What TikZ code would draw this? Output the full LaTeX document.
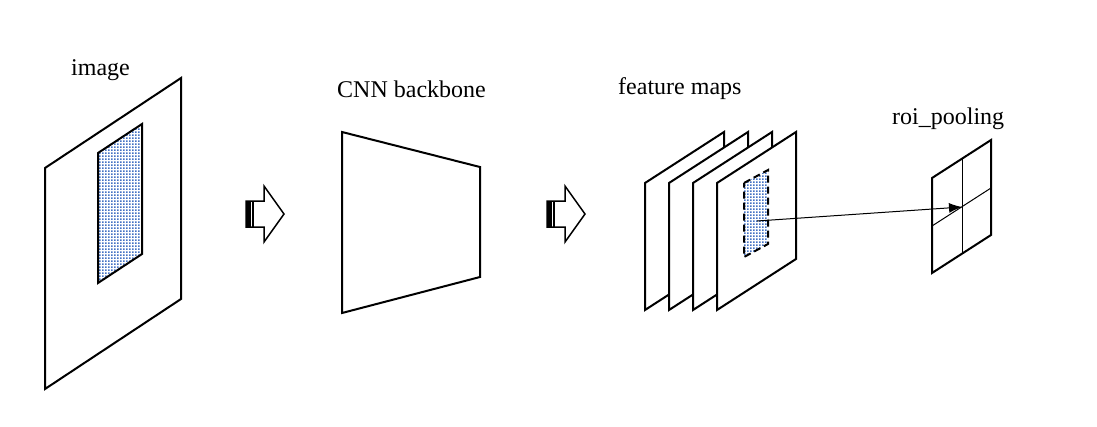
\documentclass[tikz,border=0pt]{standalone}
\usepackage{fontspec}
\setmainfont{Liberation Serif}
\usepackage{tikz}
\usetikzlibrary{arrows.meta, calc, patterns.meta, positioning}
\usepackage{xcolor}
\definecolor{RoiBlue}{RGB}{68, 114, 196}
\pgfdeclarepattern{%
  name=roidots,%
  type=uncolored,%
  bottom left={\pgfpoint{0pt}{0pt}},%
  top right={\pgfpoint{3pt}{3pt}},%
  tile size={\pgfpoint{3pt}{3pt}},%
  code={%
    \pgfpathrectangle{\pgfpoint{0pt}{0pt}}{\pgfpoint{2pt}{2pt}}%
    \pgfusepath{fill}%
  }%
}
\tikzset{%
  panel/.style={%
    draw=black,%
    fill=white,%
    line width=2pt,%
    line join=miter,%
  },
  roi_area/.style={%
    line width=2pt,%
    pattern=roidots,%
    pattern color=RoiBlue,%
  },
  roi_dashed/.style={%
    roi_area,%
    dash pattern=on 7pt off 4pt,%
  },
  grid_line/.style={%
    line width=1pt,%
  },
  step_arrow/.style={%
    draw=black,%
    fill=white,%
    line width=1.5pt,%
  },
  caption/.style={%
    anchor=base west,%
    inner sep=0pt,%
    font={\fontsize{24}{29}\selectfont},%
  },
  arrow/.style={-{Latex[length=13pt, width=10pt]}, line width=1pt},
}

\begin{document}
\begin{tikzpicture}[x=1pt, y=-1pt]
  \useasboundingbox (0,0) rectangle (1097,426);

  % input image with its region
  \draw [panel] (45,168) -- (181,78) -- (181,299) -- (45,389) -- cycle;
  \draw [roi_area] (98,153) -- (142,124) -- (142,254) -- (98,283) -- cycle;
  \node [caption] (ImageLabel) at (71,75) {image};

  % block arrows
  \foreach \ax/\name in {246/StepA, 547/StepB}{%
    \draw [step_arrow] (\ax,201) -- ++(18,0) -- ++(0,-15) -- ++(20,28)
      -- ++(-20,28) -- ++(0,-15) -- ++(-18,0) -- cycle;
    \fill [black] (\ax,201) rectangle ++(5,26);
    \draw [line width=1.2pt] ($(\ax,201)+(7,0)$) -- ++(0,26);
  }

  % backbone
  \draw [panel] (342,132) -- (480,167) -- (480,277) -- (342,313) -- cycle;
  \node [caption] (BackboneLabel) at (337,97) {CNN backbone};

  % stacked feature maps
  \foreach \i in {0,...,3}{%
    \draw [panel] ({645+24*\i},183) -- ++(79,-51) -- ++(0,127) -- ++(-79,51) -- cycle;
  }
  \draw [roi_dashed] (744,183) -- (768,170) -- (768,244) -- (744,257) -- cycle;
  \coordinate (RoiCenter) at (757,221);
  \node [caption] (FeatureLabel) at (618,94) {feature maps};

  % pooled grid
  \draw [panel] (932,178) -- (991,140) -- (991,235) -- (932,273) -- cycle;
  \draw [grid_line] (962,159) -- (962,254);
  \draw [grid_line] (932,226) -- (991,188);
  \coordinate (PoolCenter) at (962,207);
  \node [caption] (PoolLabel) at (892,124) {roi\_pooling};

  \draw [arrow] (RoiCenter) -- (PoolCenter);
\end{tikzpicture}
\end{document}
